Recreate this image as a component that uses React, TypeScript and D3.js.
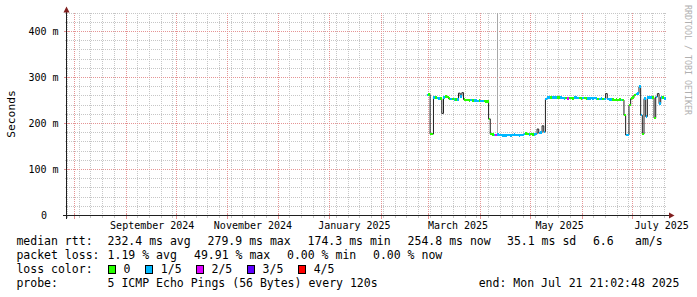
import React from "react";
import * as d3 from "d3";

// ---- time frame of the graph ----
const periodStart = "2024-07-27T16:35:00Z";
const periodEnd = "2025-07-21T21:02:48Z";

// ---- daily RRD rows (first row date), median rtt in ms ----
const dataStart = "2025-02-28T00:00:00Z";
const medianMs = [
  262, 263, 177, 177, 257, 257, 255, 254, 254, 222,
  257, 259, 258, 254, 253, 253, 252, 252, 252, 266,
  259, 267, 252, 251, 251, 250, 251, 250, 250, 250,
  249, 250, 249, 249, 249, 248, 248, 210, 177, 176,
  175, 175, 176, 175, 175, 174, 174, 174, 175, 175,
  174, 175, 176, 175, 175, 174, 175, 175, 177, 178,
  177, 176, 177, 176, 176, 177, 188, 179, 180, 195,
  182, 253, 256, 257, 256, 256, 257, 256, 257, 257,
  256, 255, 254, 255, 254, 255, 255, 254, 256, 256,
  255, 255, 254, 255, 255, 254, 254, 254, 255, 254,
  255, 254, 253, 253, 254, 253, 253, 265, 253, 252,
  252, 252, 251, 252, 251, 252, 251, 251, 218, 175,
  175, 240, 254, 256, 262, 264, 265, 280, 218, 177,
  254, 215, 256, 256, 257, 256, 212, 258, 265, 243,
  257, 256, 254,
];
// lost pings out of 5 per row (-1: no loss band visible)
const lossLevel = [
  1, 0, 0, 0, 1, 0, 1, 1, 0, -1,
  1, 0, 0, 0, 1, 0, 1, 0, 1, -1,
  1, -1, 0, 0, 0, 0, 1, 0, 1, 1,
  1, 0, 1, 1, 0, 0, 0, 0, 0, 0,
  1, 2, 1, 1, 1, 1, 1, 1, 1, 1,
  1, 1, 1, 1, 1, 1, 1, 1, 1, 0,
  0, 1, 0, 0, 1, 1, -1, 1, 1, -1,
  1, 1, 1, 1, 0, 1, 1, 1, 0, 0,
  1, 1, 1, 0, 2, 0, 0, 0, 1, 1,
  1, 0, 0, 1, 0, 0, 1, 1, 1, 1,
  1, 1, 0, 1, 1, 0, 1, -1, 1, 1,
  1, 0, 0, 0, 0, 0, 1, 0, 0, 1,
  1, 0, 0, 0, 0, 1, 1, 1, 1, 0,
  1, 1, 1, 1, 1, 0, 0, 1, -1, 1,
  1, 0, 1,
];

// ---- smoke outliers ----
const smokeDates = ["2025-04-11T00:00:00Z"];
const smokeLowMs = [176];
const smokeHighMs = [900];

// ---- axes ----
const monthLabels = ["September 2024", "November 2024", "January 2025", "March 2025", "May 2025", "July 2025"];
const monthLabelDates = [
  "2024-09-16T17:00:00Z", "2024-11-16T00:00:00Z", "2025-01-15T17:00:00Z",
  "2025-03-18T17:00:00Z", "2025-05-18T12:00:00Z", "2025-07-18T14:00:00Z",
];
const yTicksMs = [0, 100, 200, 300, 400];
const yTickLabels = ["0", "100 m", "200 m", "300 m", "400 m"];
const yMaxMs = 440;
const yTitle = "Seconds";

// ---- legend ----
const lossColors = ["#26ff00", "#00b8ff", "#dd00ff", "#5e00ff", "#ff0000"];
const lossLabels = ["0", "1/5", "2/5", "3/5", "4/5"];
const rttLegend = ["median rtt:", "232.4 ms avg", "279.9 ms max", "174.3 ms min", "254.8 ms now", "35.1 ms sd", "6.6", "am/s"];
const lossLegend = ["packet loss:", "1.19 % avg", "49.91 % max", "0.00 % min", "0.00 % now"];
const probeLegend = ["probe:", "5 ICMP Echo Pings (56 Bytes) every 120s", "end: Mon Jul 21 21:02:48 2025"];
const watermark = "RRDTOOL / TOBI OETIKER";

const FONT = "'DejaVu Sans Mono', monospace";

export default function App() {
  const W = 697, H = 297;
  const x = d3.scaleUtc().domain([new Date(periodStart), new Date(periodEnd)]).range([67, 667.2]);
  const y = d3.scaleLinear().domain([0, yMaxMs]).range([215.5, 13.1]);
  const x0 = 67, x1 = 667, yTop = 13, yBot = 215.5;
  const crisp = (v: number) => Math.round(v - 0.5) + 0.5;

  const day0 = new Date(dataStart);
  const days = medianMs.map((_, i) => d3.utcDay.offset(day0, i));
  const dayEnd = d3.utcDay.offset(day0, medianMs.length);

  const minorX = d3.utcSunday.range(x.domain()[0], x.domain()[1]);
  const majorX = d3.utcMonth.range(x.domain()[0], x.domain()[1]);
  const minorY = d3.range(0, yMaxMs + 1, 20);
  const majorY = d3.range(0, yMaxMs + 1, 100);

  const pts: [number, number][] = days.map((d, i) => [x(d), y(medianMs[i])]);
  pts.push([x(dayEnd), y(medianMs[medianMs.length - 1])]);
  const medLine = d3.line().curve(d3.curveStepAfter)(pts) || "";

  const gridGray = "#c6c6c6";
  const gridRed = "#e59494";

  const rttX = [16.4, 107.6, 207.6, 307.6, 407.6, 507, 592.9, 635];
  const lossX = [16.4, 107.6, 194, 287, 373];
  const boxX = [108, 145.3, 196, 247.1, 298.2];
  const probeX = [16.4, 107.6, 478.7];

  return (
    <svg width={W} height={H} viewBox={`0 0 ${W} ${H}`}
      style={{ position: "absolute", left: 0, top: 0, background: "#fff" }}
      fontFamily={FONT}>
      <rect x={0} y={0} width={W} height={H} fill="#fff" />

      {/* minor grid */}
      <g stroke={gridGray} strokeWidth={1} strokeDasharray="1,1" shapeRendering="crispEdges">
        {minorY.filter(v => v % 100 !== 0).map(v => (
          <line key={"my" + v} x1={x0} x2={x1} y1={crisp(y(v))} y2={crisp(y(v))} />
        ))}
        {minorX.map(d => (
          <line key={"mx" + +d} x1={crisp(x(d))} x2={crisp(x(d))} y1={yTop} y2={yBot} />
        ))}
      </g>
      <g stroke={gridGray} strokeWidth={1} shapeRendering="crispEdges">
        {minorX.map(d => (
          <line key={"tx" + +d} x1={crisp(x(d))} x2={crisp(x(d))} y1={yBot - 1} y2={yBot + 2} />
        ))}
        {minorY.filter(v => v % 100 !== 0).map(v => (
          <line key={"ty" + v} x1={x0 - 2} x2={x0 + 1} y1={crisp(y(v))} y2={crisp(y(v))} />
        ))}
      </g>
      {/* major grid */}
      <g stroke={gridRed} strokeWidth={1} strokeDasharray="1,1" shapeRendering="crispEdges">
        {majorY.filter(v => v > 0).map(v => (
          <line key={"My" + v} x1={x0} x2={x1} y1={crisp(y(v))} y2={crisp(y(v))} />
        ))}
        {majorX.map(d => (
          <line key={"Mx" + +d} x1={crisp(x(d))} x2={crisp(x(d))} y1={yTop} y2={yBot} />
        ))}
      </g>
      <g stroke={gridRed} strokeWidth={1} shapeRendering="crispEdges">
        {majorX.map(d => (
          <line key={"TX" + +d} x1={crisp(x(d))} x2={crisp(x(d))} y1={yBot - 2} y2={yBot + 3} />
        ))}
        {majorY.filter(v => v > 0).map(v => (
          <line key={"TY" + v} x1={x0 - 3} x2={x0 + 2} y1={crisp(y(v))} y2={crisp(y(v))} />
        ))}
      </g>

      {/* smoke */}
      <g fill="#a8a8a8" shapeRendering="crispEdges">
        {smokeDates.map((s, i) => {
          const top = Math.max(y(smokeHighMs[i]), yTop);
          return <rect key={"s" + i} x={Math.round(x(new Date(s)))} width={1}
            y={top} height={y(smokeLowMs[i]) - top} />;
        })}
      </g>

      {/* median line */}
      <path d={medLine} fill="none" stroke="#202020" strokeWidth={1} />

      {/* loss colored median bands */}
      <g shapeRendering="crispEdges">
        {days.map((d, i) => {
          const lv = lossLevel[i];
          if (lv < 0) return null;
          const xa = x(d);
          const xb = i + 1 < days.length ? x(days[i + 1]) : x(dayEnd);
          return <rect key={"b" + i} x={xa} width={xb - xa} y={y(medianMs[i]) - 1.25} height={2.5}
            fill={lossColors[lv]} />;
        })}
      </g>

      {/* axes */}
      <g stroke="#1f1f1f" strokeWidth={1} shapeRendering="crispEdges">
        <line x1={63} x2={671} y1={yBot} y2={yBot} />
        <line x1={66.5} x2={66.5} y1={219} y2={10} />
      </g>
      <polygon points={`669,212.5 674.5,215.5 669,218.5`} fill="#801f1f" />
      <polygon points={`63.5,12.5 66.5,6.5 69.5,12.5`} fill="#801f1f" />

      {/* y tick labels */}
      <g fontSize={10} fill="#000">
        {yTicksMs.map((v, i) => (
          <text key={"yl" + v} x={v === 0 ? 47 : 58.5} y={y(v) + 3.5} textAnchor="end">{yTickLabels[i]}</text>
        ))}
      </g>
      <text transform={`translate(14.5,114) rotate(-90)`} textAnchor="middle" fontSize={11.3} fill="#000">{yTitle}</text>

      {/* x labels */}
      <g fontSize={10} fill="#000">
        {monthLabels.map((m, i) => (
          <text key={m} x={x(new Date(monthLabelDates[i]))} y={228.5} textAnchor="middle">{m}</text>
        ))}
      </g>

      {/* watermark */}
      <text transform={`translate(684.5,60) rotate(90)`} textAnchor="middle" fontSize={8.3} fill="#b0b0b0">{watermark}</text>

      {/* legend */}
      <g fontSize={11.5} fill="#000">
        {rttLegend.map((t, i) => <text key={"r" + i} x={rttX[i]} y={245}>{t}</text>)}
        {lossLegend.map((t, i) => <text key={"l" + i} x={lossX[i]} y={259}>{t}</text>)}
        <text x={16.4} y={273}>loss color:</text>
        {lossLabels.map((t, i) => (
          <g key={"lc" + i}>
            <rect x={boxX[i] + 0.5} y={265.5} width={7} height={8} fill={lossColors[i]} stroke="#000" strokeWidth={1} shapeRendering="crispEdges" />
            <text x={boxX[i] + 15.5} y={273}>{t}</text>
          </g>
        ))}
        {probeLegend.map((t, i) => <text key={"p" + i} x={probeX[i]} y={287}>{t}</text>)}
      </g>
    </svg>
  );
}
